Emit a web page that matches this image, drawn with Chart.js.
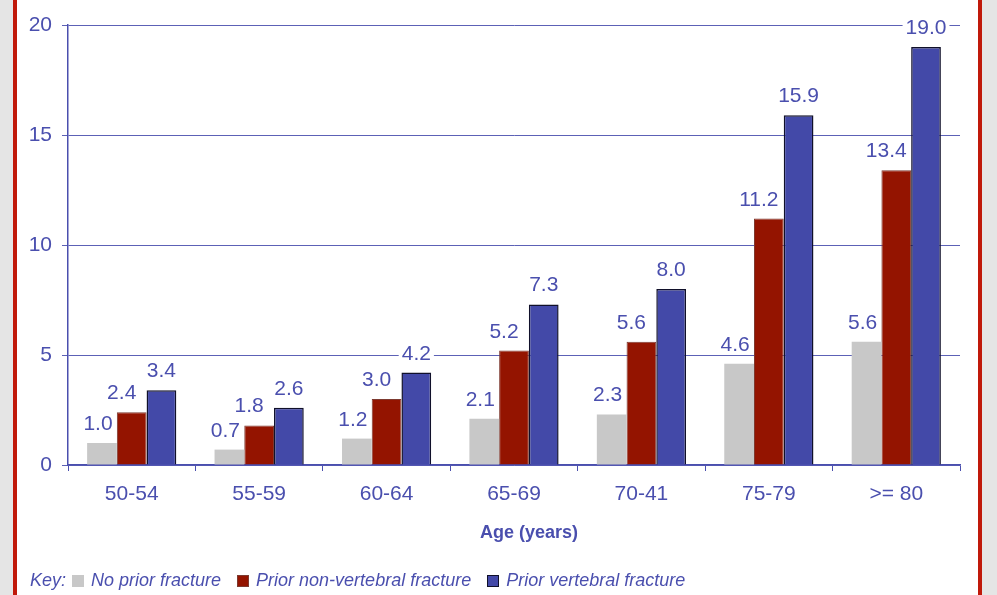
<!DOCTYPE html>
<html lang="en">
<head>
  <meta charset="UTF-8">
  <title>Fracture probability by age</title>
  <script src="https://cdn.jsdelivr.net/npm/chart.js"></script>
  <style>
    body { margin: 0; width: 997px; height: 595px; background: #e5e5e5; overflow: hidden; font-family: "Liberation Sans", Arial, sans-serif; }
    .panel { position: absolute; left: 13px; top: 0; width: 961px; height: 595px; background: #fff; border-left: 4px solid #c0190a; border-right: 4px solid #c0190a; }
    canvas { position: absolute; left: 0; top: 0; }
    .key { position: absolute; left: 30px; top: 570px; font-style: italic; font-size: 18px; color: #4a4fae; white-space: nowrap; }
    .key span.sw { display: inline-block; width: 12px; height: 12px; margin: 0 7px 0 0; vertical-align: -1px; box-sizing: border-box; }
    .key .item { margin-right: 16px; }
  </style>
</head>
<body>
  <div class="panel"></div>
  <canvas id="grafica" width="997" height="595"></canvas>
  <div class="key" id="key"></div>

  <script>
    const categorias = ["50-54", "55-59", "60-64", "65-69", "70-41", "75-79", ">= 80"];
    const sinFractura = [1.0, 0.7, 1.2, 2.1, 2.3, 4.6, 5.6];
    const noVertebral = [2.4, 1.8, 3.0, 5.2, 5.6, 11.2, 13.4];
    const vertebral = [3.4, 2.6, 4.2, 7.3, 8.0, 15.9, 19.0];
    const yTicks = [0, 5, 10, 15, 20];

    const azul = "#4a4fae";
    const fuente = "'Liberation Sans', Arial, sans-serif";

    const series = [
      { label: "No prior fracture", data: sinFractura, color: "#c8c8c8", border: "#c8c8c8", bw: 0, dx: -4 },
      { label: "Prior non-vertebral fracture", data: noVertebral, color: "#941400", border: "#7d3a30", bw: 1, dx: -10 },
      { label: "Prior vertebral fracture", data: vertebral, color: "#4349a8", border: "#10102a", bw: 1.5, dx: 0 }
    ];

    function cadaEtiqueta(chart, fn) {
      const ctx = chart.ctx;
      ctx.save();
      ctx.font = "21px " + fuente;
      ctx.textAlign = "center";
      ctx.textBaseline = "alphabetic";
      chart.data.datasets.forEach((ds, i) => {
        chart.getDatasetMeta(i).data.forEach((bar, j) => {
          const txt = ds.data[j].toFixed(1);
          fn(ctx, txt, bar.x + series[i].dx, bar.y - 13);
        });
      });
      ctx.restore();
    }

    // etiquetas de valor: fondo blanco debajo de las barras, texto encima
    const etiquetas = {
      id: "etiquetas",
      beforeDatasetsDraw(chart) {
        cadaEtiqueta(chart, (ctx, txt, x, y) => {
          const w = ctx.measureText(txt).width;
          ctx.fillStyle = "#fff";
          ctx.fillRect(x - w / 2 - 3, y - 18, w + 6, 22);
        });
      },
      afterDatasetsDraw(chart) {
        cadaEtiqueta(chart, (ctx, txt, x, y) => {
          ctx.fillStyle = azul;
          ctx.fillText(txt, x, y);
        });
      }
    };

    const tituloEje = {
      id: "tituloEje",
      afterDraw(chart) {
        const ctx = chart.ctx;
        ctx.save();
        ctx.font = "bold 18px " + fuente;
        ctx.fillStyle = azul;
        ctx.textAlign = "center";
        ctx.textBaseline = "middle";
        ctx.fillText("Age (years)", 529, 533);
        ctx.restore();
      }
    };

    new Chart(document.getElementById("grafica"), {
      type: "bar",
      data: {
        labels: categorias,
        datasets: series.map(s => ({
          label: s.label,
          data: s.data,
          backgroundColor: s.color,
          borderColor: s.border,
          borderWidth: s.bw,
          categoryPercentage: 0.7,
          barPercentage: 1.0
        }))
      },
      options: {
        responsive: false,
        animation: false,
        layout: { padding: { left: 0, right: 37, top: 25, bottom: 0 } },
        plugins: { legend: { display: false }, tooltip: { enabled: false } },
        scales: {
          x: {
            afterFit(scale) { scale.height = 130; },
            grid: { offset: true, drawOnChartArea: false, tickLength: 6, color: azul },
            border: { color: azul, width: 1.5 },
            ticks: { color: azul, font: { family: fuente, size: 21 }, padding: 11 }
          },
          y: {
            min: 0,
            max: 20,
            afterFit(scale) { scale.width = 68; },
            afterBuildTicks(scale) { scale.ticks = yTicks.map(v => ({ value: v })); },
            grid: { color: "#5c61b6", lineWidth: 1, tickLength: 6 },
            border: { color: azul, width: 1.5 },
            ticks: { color: azul, font: { family: fuente, size: 21 }, padding: 10 }
          }
        }
      },
      plugins: [etiquetas, tituloEje]
    });

    // leyenda
    let html = "Key:<span style='margin-right:6px'></span>";
    series.forEach(s => {
      html += `<span class="item"><span class="sw" style="background:${s.color};border:${s.bw ? 1.5 : 0}px solid ${s.border}"></span>${s.label}</span>`;
    });
    document.getElementById("key").innerHTML = html;
  </script>
</body>
</html>
